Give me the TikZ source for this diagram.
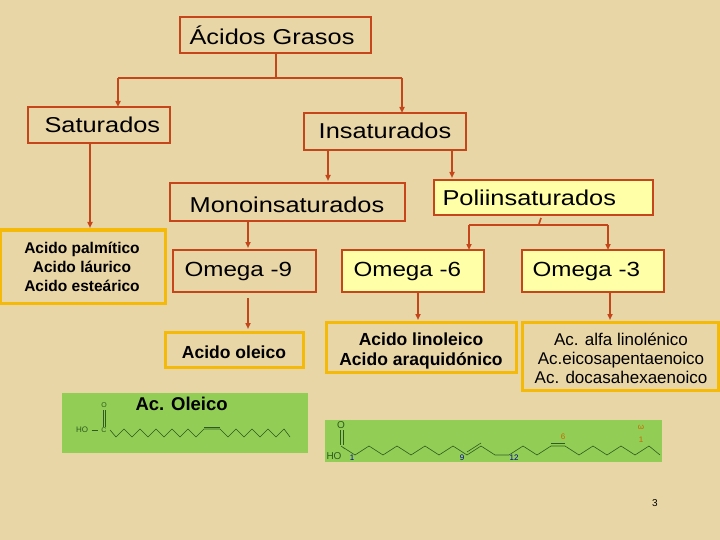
\documentclass[tikz,border=0pt]{standalone}
\usepackage{fontspec}
\setmainfont{Liberation Sans}
\newfontfamily\wide[FakeStretch=1.18]{Liberation Sans}
\usetikzlibrary{arrows.meta}
\definecolor{bg}{HTML}{E9D6A6}
\definecolor{rd}{HTML}{C5461B}
\definecolor{org}{HTML}{F5B90A}
\definecolor{yl}{HTML}{FFFFA8}
\definecolor{gr}{HTML}{92CE55}
\definecolor{chem}{HTML}{2F5A20}
\tikzset{x=1pt,y=-1pt,
 rbox/.style={draw=rd,line width=2.5pt,inner sep=0pt},
 obox/.style={draw=org,line width=3pt,inner sep=0pt},
 con/.style={draw=rd,line width=1.6pt},
 arr/.style={con,-{Triangle[length=6pt,width=5pt]}},
 lbl/.style={font=\wide\fontsize{21.5}{24}\selectfont},
 olbl/.style={font=\wide\fontsize{20.5}{24}\selectfont},
 blbl/.style={font=\bfseries\fontsize{17.5}{20}\selectfont,align=center},
 slbl/.style={font=\fontsize{17}{19}\selectfont,align=center},
 bond/.style={draw=chem,line width=0.6pt}}
\begin{document}
\begin{tikzpicture}
\useasboundingbox (0,0) rectangle (720,540);
\fill[bg] (0,0) rectangle (720,540);
% boxes
\draw[rbox] (180,17) rectangle (371,53); \node[lbl,anchor=west] (ag) at (186,35) {Ácidos Grasos};
\draw[rbox] (28,107) rectangle (170,143); \node[lbl,anchor=west] (sat) at (41,125) {Saturados};
\draw[rbox] (304,113) rectangle (466,150); \node[lbl] (ins) at (385,131) {Insaturados};
\draw[rbox] (170,183) rectangle (405,221); \node[lbl] (mono) at (287,205) {Monoinsaturados};
\draw[rbox,fill=yl] (434,180) rectangle (653,215); \node[lbl,anchor=west] (poli) at (439,198) {Poliinsaturados};
\draw[obox] (0,230) rectangle (165,303); \node[blbl,font=\bfseries\fontsize{15.5}{19}\selectfont] (satl) at (82,267) {Acido palmítico\\Acido láurico\\Acido esteárico};
\draw[rbox] (173,250) rectangle (316,292); \node[olbl,anchor=west] (o9) at (181,271) {Omega -9};
\draw[rbox,fill=yl] (342,250) rectangle (484,292); \node[olbl,anchor=west] (o6) at (350,271) {Omega -6};
\draw[rbox,fill=yl] (522,250) rectangle (664,292); \node[olbl,anchor=west] (o3) at (529,271) {Omega -3};
\draw[obox] (165,332) rectangle (303,367); \node[blbl] (ole) at (234,352) {Acido oleico};
\draw[obox] (326,322) rectangle (516,372); \node[blbl] (lin) at (421,351) {Acido linoleico\\Acido araquidónico};
\draw[obox] (522,322) rectangle (718,390); \node[slbl] (alf) at (621,358) {Ac. alfa linolénico\\Ac.eicosapentaenoico\\Ac. docasahexaenoico};
% connectors
\coordinate (j1) at (276,78);
\draw[con] (276,53) -- (j1);
\draw[con] (118,78) -- (402,78);
\draw[arr] (118,78) -- (118,107);
\draw[arr] (402,78) -- (402,113);
\draw[arr] (90,143) -- (90,228);
\draw[arr] (328,150) -- (328,181);
\draw[arr] (452,150) -- (452,178);
\draw[arr] (248,221) -- (248,248);
\draw[con] (541,218) -- (539,224);
\draw[con] (469,225) -- (608,225);
\draw[arr] (469,225) -- (469,250);
\draw[arr] (608,225) -- (608,250);
\draw[arr] (248,298) -- (248,329);
\draw[arr] (418,292) -- (418,320);
\draw[arr] (610,292) -- (610,320);
% green box 1
\fill[gr] (62,393) rectangle (308,453);
\node[font=\bfseries\fontsize{18.5}{20}\selectfont,anchor=west] (aco) at (132,404) {Ac. Oleico};
\node[font=\fontsize{8}{9}\selectfont,text=chem] (ho1) at (82,430) {HO};
\node[font=\fontsize{7}{8}\selectfont,text=chem] (c1) at (104,430) {C};
\node[font=\fontsize{7}{8}\selectfont,text=chem] (o1) at (104,405) {O};
\draw[bond] (ho1.east) -- (c1.west);
\draw[bond] (103,427) -- (103,410) (105,427) -- (105,410);
\draw[bond] (c1.east) -- (116,437) -- (124,429) -- (132,437) -- (140,429) -- (148,437) -- (156,429) -- (164,437) -- (172,429) -- (180,437) -- (188,429) -- (196,437) -- (204,429) -- (220,429) -- (228,437) -- (236,429) -- (244,437) -- (252,429) -- (260,437) -- (268,429) -- (276,437) -- (284,429) -- (290,437);
\draw[bond] (204,427) -- (220,427);
% green box 2
\fill[gr] (325,420) rectangle (662,462);
\node[font=\fontsize{10}{11}\selectfont,text=chem] (o2) at (341,425) {O};
\node[font=\fontsize{10}{11}\selectfont,text=chem] (ho2) at (334,456) {HO};
\draw[bond] (340,430) -- (340,445) (343,430) -- (343,445);
\draw[bond] (ho2.north east) -- (341,446) -- (355,455) -- (369,446) -- (383,455) -- (397,446) -- (411,455) -- (425,446) -- (439,455) -- (453,446) -- (467,455) -- (481,446) -- (495,455) -- (509,455) -- (523,446) -- (537,455) -- (551,446) -- (565,446) -- (579,455) -- (593,446) -- (607,455) -- (621,446) -- (635,455) -- (649,446) -- (660,455);
\draw[bond] (467,452) -- (481,443);
\draw[bond] (551,443) -- (565,443);
\node[font=\fontsize{8}{9}\selectfont,text=blue!60!black] (n1) at (352,458) {1};
\node[font=\fontsize{8}{9}\selectfont,text=blue!60!black] (n9) at (462,458) {9};
\node[font=\fontsize{8}{9}\selectfont,text=blue!60!black] (n12) at (514,458) {12};
\node[font=\fontsize{8}{9}\selectfont,text=orange!80!black] (n6) at (563,437) {6};
\node[font=\fontsize{8}{9}\selectfont,text=orange!80!black] (om) at (641,427) {ω};
\node[font=\fontsize{8}{9}\selectfont,text=orange!80!black] (n1b) at (641,440) {1};
\node[font=\fontsize{10}{12}\selectfont] (pg) at (655,503) {3};
\end{tikzpicture}
\end{document}
